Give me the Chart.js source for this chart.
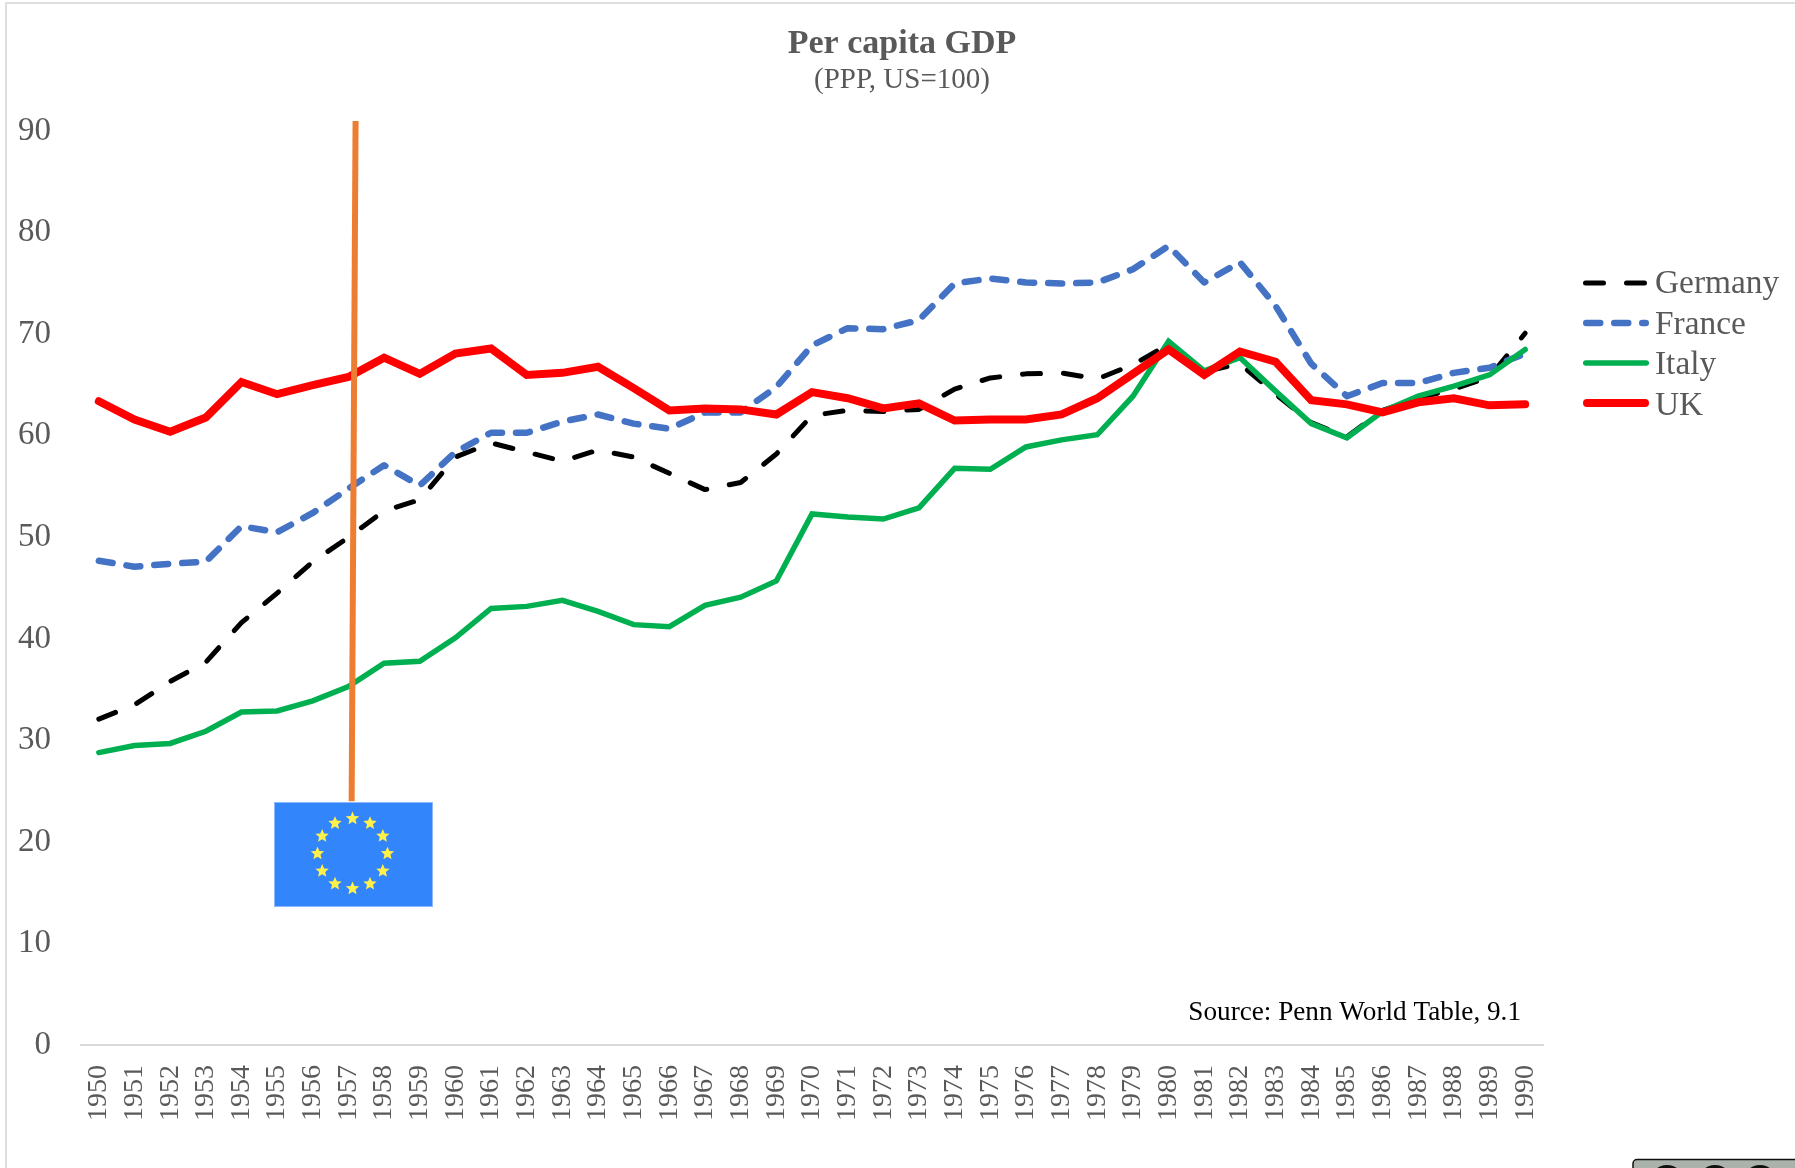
<!DOCTYPE html>
<html>
<head>
<meta charset="utf-8">
<style>
html,body{margin:0;padding:0;background:#fff;width:1795px;height:1168px;overflow:hidden}
#frame{position:absolute;left:5px;top:2px;width:1790px;height:1166px;border-left:2px solid #dedede;border-top:2px solid #dedede;box-sizing:border-box}
canvas{position:absolute;left:0;top:0}
#deco{position:absolute;left:0;top:0;pointer-events:none}
</style>
<script src="https://cdn.jsdelivr.net/npm/chart.js@4"></script>
</head>
<body>
<div id="frame"></div>
<canvas id="c" width="1795" height="1168"></canvas>
<svg id="deco" width="1795" height="1168" xmlns="http://www.w3.org/2000/svg"></svg>
<script>
const years = ['1950','1951','1952','1953','1954','1955','1956','1957','1958','1959','1960','1961','1962','1963','1964','1965','1966','1967','1968','1969','1970','1971','1972','1973','1974','1975','1976','1977','1978','1979','1980','1981','1982','1983','1984','1985','1986','1987','1988','1989','1990'];
const germany = [32.1,33.5,35.8,37.7,41.6,44.5,47.6,50.0,52.6,53.7,57.9,59.3,58.4,57.5,58.6,57.9,56.3,54.7,55.4,58.2,62.0,62.5,62.4,62.6,64.6,65.7,66.1,66.2,65.6,67.0,69.0,66.3,67.1,64.1,61.3,59.9,62.5,63.7,64.6,65.8,70.1];
const france = [47.7,47.1,47.4,47.6,51.1,50.5,52.4,54.8,57.1,55.1,58.4,60.3,60.3,61.4,62.1,61.2,60.7,62.3,62.3,64.8,68.9,70.6,70.5,71.4,75.0,75.5,75.1,75.0,75.1,76.4,78.7,75.1,77.1,72.8,67.1,63.9,65.2,65.2,66.2,66.7,68.1];
const italy = [28.8,29.5,29.7,30.9,32.8,32.9,33.9,35.3,37.6,37.8,40.1,43.0,43.2,43.8,42.7,41.4,41.2,43.3,44.1,45.7,52.3,52.0,51.8,52.9,56.8,56.7,58.9,59.6,60.1,63.9,69.3,66.4,67.7,64.4,61.2,59.8,62.4,63.9,64.9,66.0,68.5];
const uk = [63.4,61.6,60.4,61.8,65.3,64.1,65.0,65.8,67.7,66.1,68.1,68.6,66.0,66.2,66.8,64.7,62.5,62.7,62.6,62.1,64.3,63.7,62.7,63.2,61.5,61.6,61.6,62.1,63.7,66.1,68.5,66.0,68.3,67.3,63.5,63.1,62.3,63.3,63.7,63.0,63.1];
const treatyLine = [{x:1957.2,y:91.0},{x:1957.09,y:24.0}];
const titleText = 'Per capita GDP';
const subtitleText = '(PPP, US=100)';
const sourceText = 'Source: Penn World Table, 9.1';
const legendNames = ['Germany','France','Italy','UK'];

const SERIF = "'Liberation Serif','Times New Roman',serif";
const GREY = '#595959';

const extras = {
  id:'extras',
  afterDraw(chart){
    const ctx = chart.ctx;
    ctx.save();
    ctx.font = '27.2px '+SERIF;
    ctx.fillStyle = '#000';
    ctx.textAlign = 'right';
    ctx.textBaseline = 'alphabetic';
    ctx.fillText(sourceText, 1521, 1020);
    const baselines = [293,334,374,415];
    const rows = [283,323,363,403];
    legendNames.forEach((name,i)=>{
      const ds = chart.data.datasets[i];
      ctx.save();
      ctx.beginPath();
      ctx.strokeStyle = ds.borderColor;
      ctx.lineWidth = ds.borderWidth;
      ctx.lineCap = 'round';
      ctx.setLineDash(ds.borderDash || []);
      const inset = ds.borderWidth/2;
      ctx.moveTo(1583+inset, rows[i]);
      ctx.lineTo(1649-inset, rows[i]);
      ctx.stroke();
      ctx.restore();
      ctx.font = '33.4px '+SERIF;
      ctx.fillStyle = GREY;
      ctx.textAlign = 'left';
      ctx.fillText(name, 1655, baselines[i]);
    });
    ctx.restore();
  }
};

new Chart(document.getElementById('c'),{
  type:'line',
  data:{
    labels:years,
    datasets:[
      {label:'Germany',data:germany,borderColor:'#000000',borderWidth:5,borderDash:[18,23],borderCapStyle:'round',borderJoinStyle:'round',pointRadius:0,tension:0,fill:false,order:4},
      {label:'France',data:france,borderColor:'#4472C4',borderWidth:6.5,borderDash:[14,14],borderCapStyle:'round',borderJoinStyle:'round',pointRadius:0,tension:0,fill:false,order:3},
      {label:'Italy',data:italy,borderColor:'#00B050',borderWidth:5.5,borderCapStyle:'round',borderJoinStyle:'miter',pointRadius:0,tension:0,fill:false,order:2},
      {label:'UK',data:uk,borderColor:'#FF0000',borderWidth:8,borderCapStyle:'round',borderJoinStyle:'miter',pointRadius:0,tension:0,fill:false,order:1},
      {label:'Treaty of Rome',data:treatyLine,xAxisID:'xYear',borderColor:'#ED7D31',borderWidth:6,borderCapStyle:'butt',pointRadius:0,tension:0,fill:false,clip:false,order:0}
    ]
  },
  options:{
    responsive:false,
    animation:false,
    layout:{padding:{left:9,right:0,top:0,bottom:0}},
    plugins:{
      legend:{display:false},
      tooltip:{enabled:false},
      title:{display:true,text:titleText,color:GREY,font:{family:SERIF,size:34,weight:'bold',lineHeight:1.1},padding:{top:26,bottom:0}},
      subtitle:{display:true,text:subtitleText,color:GREY,font:{family:SERIF,size:29,weight:'normal'},padding:{top:0,bottom:33}}
    },
    scales:{
      x:{
        type:'category',
        offset:true,
        grid:{display:false},
        border:{display:true,color:'#D9D9D9',width:2},
        ticks:{color:GREY,font:{family:SERIF,size:28},minRotation:90,maxRotation:90,autoSkip:false,padding:12},
        afterFit(a){a.height=123;}
      },
      xYear:{
        type:'linear',
        display:false,
        position:'bottom',
        min:1949.5,
        max:1990.5
      },
      y:{
        min:0,max:90,
        grid:{display:false},
        border:{display:false},
        ticks:{color:GREY,font:{family:SERIF,size:33},stepSize:10,padding:22},
        afterFit(a){a.width=72;}
      },
      legendGutter:{
        position:'right',
        display:true,
        grid:{display:false},
        border:{display:false},
        ticks:{display:false},
        afterFit(a){a.width=252;}
      }
    }
  },
  plugins:[extras]
});

// Decorative EU flag and licence badge
(function(){
  const NS='http://www.w3.org/2000/svg';
  const svg=document.getElementById('deco');
  const add=(n,a,p)=>{const e=document.createElementNS(NS,n);for(const k in a)e.setAttribute(k,a[k]);(p||svg).appendChild(e);return e;};
  add('rect',{x:274.5,y:802.5,width:158,height:104,fill:'#3385FB',stroke:'#8DB8FF','stroke-width':1});
  const cx=352.5,cy=853.5,R=35,r0=7,r1=3.2;
  for(let i=0;i<12;i++){
    const t=i*Math.PI/6;
    const sx=cx+R*Math.sin(t), sy=cy-R*Math.cos(t);
    let pts='';
    for(let j=0;j<10;j++){
      const a=j*Math.PI/5, rr=j%2?r1:r0;
      pts+=(sx+rr*Math.sin(a)).toFixed(1)+','+(sy-rr*Math.cos(a)).toFixed(1)+' ';
    }
    add('polygon',{points:pts,fill:'#FFF04A'});
  }
  add('rect',{x:1633,y:1159.5,width:170,height:20,rx:4,fill:'#AAB2AB',stroke:'#111','stroke-width':1.5});
  [1667,1715,1760].forEach(x=>add('circle',{cx:x,cy:1182,r:17,fill:'#111'}));
})();
</script>
</body>
</html>
